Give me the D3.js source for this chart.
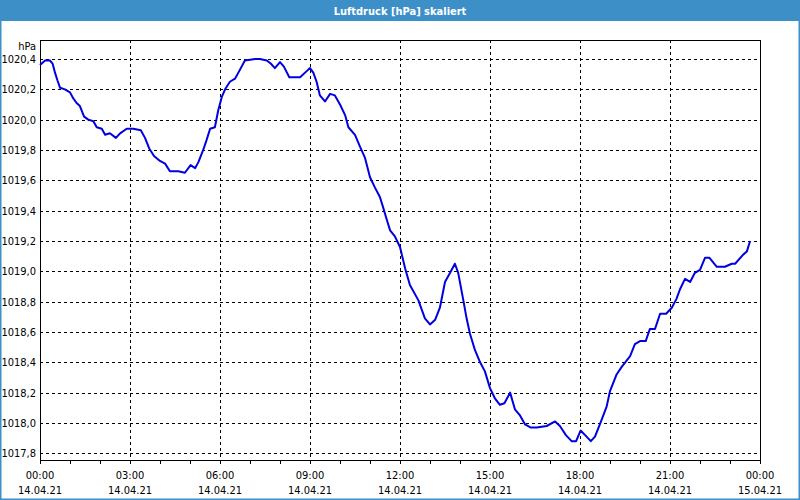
<!DOCTYPE html>
<html>
<head>
<meta charset="utf-8">
<script src="https://cdn.jsdelivr.net/npm/d3@7/dist/d3.min.js"></script>
<style>
  html, body { margin: 0; padding: 0; background: #ffffff; }
  svg { display: block; }
  text { font-family: 'DejaVu Sans Condensed', 'DejaVu Sans', sans-serif; }
</style>
</head>
<body>
<svg id="chart" width="800" height="500"></svg>
<script>
const title = "Luftdruck [hPa] skaliert";
const unitLabel = "hPa";

// time in hours since 14.04.21 00:00
const hours = [0,0.17,0.33,0.42,0.5,0.58,0.67,0.83,1.0,1.11,1.22,1.33,1.47,1.61,1.78,1.89,2.06,2.17,2.33,2.53,2.67,2.89,3.11,3.36,3.5,3.64,3.8,3.98,4.17,4.33,4.61,4.83,5.02,5.17,5.28,5.44,5.56,5.67,5.83,5.94,6.06,6.17,6.33,6.5,6.64,6.83,7.17,7.33,7.56,7.69,7.83,8.0,8.13,8.31,8.67,8.89,9.0,9.11,9.22,9.33,9.5,9.67,9.83,10.0,10.17,10.28,10.5,10.67,10.83,11.0,11.17,11.33,11.44,11.56,11.67,11.83,12.0,12.17,12.33,12.61,12.83,13.0,13.17,13.33,13.5,13.67,13.83,13.94,14.11,14.22,14.33,14.5,14.67,14.83,15.0,15.17,15.33,15.48,15.67,15.83,16.0,16.17,16.36,16.56,16.89,17.17,17.33,17.53,17.72,17.87,18.02,18.17,18.36,18.5,18.72,18.89,19.0,19.22,19.39,19.67,19.83,20.0,20.19,20.33,20.5,20.67,20.87,21.06,21.22,21.33,21.5,21.67,21.83,22.0,22.17,22.31,22.56,22.83,23.06,23.17,23.44,23.56,23.67];
const pressure = [1020.36,1020.39,1020.39,1020.37,1020.31,1020.26,1020.21,1020.20,1020.18,1020.14,1020.11,1020.09,1020.02,1020.00,1019.99,1019.95,1019.94,1019.90,1019.91,1019.88,1019.91,1019.94,1019.94,1019.93,1019.88,1019.81,1019.76,1019.73,1019.71,1019.66,1019.66,1019.65,1019.70,1019.68,1019.72,1019.80,1019.87,1019.94,1019.95,1020.06,1020.15,1020.20,1020.25,1020.27,1020.32,1020.39,1020.40,1020.40,1020.39,1020.37,1020.34,1020.38,1020.35,1020.28,1020.28,1020.32,1020.34,1020.31,1020.25,1020.16,1020.12,1020.17,1020.16,1020.10,1020.03,1019.95,1019.90,1019.82,1019.75,1019.62,1019.55,1019.49,1019.42,1019.34,1019.27,1019.23,1019.16,1019.02,1018.91,1018.81,1018.69,1018.65,1018.68,1018.76,1018.93,1018.99,1019.05,1018.99,1018.81,1018.69,1018.59,1018.48,1018.40,1018.34,1018.23,1018.16,1018.12,1018.13,1018.20,1018.09,1018.05,1017.99,1017.97,1017.97,1017.98,1018.01,1017.98,1017.92,1017.88,1017.88,1017.95,1017.92,1017.88,1017.91,1018.02,1018.11,1018.21,1018.32,1018.37,1018.44,1018.52,1018.54,1018.54,1018.62,1018.62,1018.72,1018.72,1018.76,1018.82,1018.88,1018.95,1018.93,1018.99,1019.01,1019.09,1019.09,1019.03,1019.03,1019.05,1019.05,1019.11,1019.13,1019.20];

const yTicks = [1017.8,1018.0,1018.2,1018.4,1018.6,1018.8,1019.0,1019.2,1019.4,1019.6,1019.8,1020.0,1020.2,1020.4];
const xMajorTicks = [0,3,6,9,12,15,18,21,24];
const xTimeLabels = ["00:00","03:00","06:00","09:00","12:00","15:00","18:00","21:00","00:00"];
const xDateLabels = ["14.04.21","14.04.21","14.04.21","14.04.21","14.04.21","14.04.21","14.04.21","14.04.21","15.04.21"];
const xMinorTicks = d3.range(0, 25, 1);

const W = 800, H = 500;
const plot = {left: 40, right: 760, top: 40, bottom: 460};

const svg = d3.select("#chart");

// title bar
svg.append("rect").attr("x",0).attr("y",0).attr("width",W).attr("height",21).attr("fill","#3d8fc7");
svg.append("text").attr("x",W/2).attr("y",15).attr("text-anchor","middle")
  .attr("fill","#ffffff").attr("font-weight","bold").attr("font-size","11px").text(title);
// outer frame
svg.append("rect").attr("x",0.5).attr("y",0.5).attr("width",W-1).attr("height",H-1)
  .attr("fill","none").attr("stroke","#3d8fc7").attr("stroke-width",2);

const x = d3.scaleLinear().domain([0,24]).range([plot.left, plot.right]);
const y = d3.scaleLinear().domain([1017.8,1020.4]).range([453.3, 59]);

const px = v => Math.round(v) + 0.5;

// grid
const grid = svg.append("g").attr("stroke","#000").attr("stroke-width",1)
  .attr("stroke-dasharray","3,3").attr("shape-rendering","crispEdges");
grid.selectAll("line.h").data(yTicks).enter().append("line")
  .attr("x1",plot.left).attr("x2",plot.right)
  .attr("y1",d=>px(y(d))).attr("y2",d=>px(y(d)));
grid.selectAll("line.v").data(xMajorTicks.slice(1,-1)).enter().append("line")
  .attr("y1",plot.top).attr("y2",plot.bottom)
  .attr("x1",d=>px(x(d))).attr("x2",d=>px(x(d)));

// frame of plot
svg.append("path").attr("fill","none").attr("stroke","#000").attr("stroke-width",1)
  .attr("shape-rendering","crispEdges")
  .attr("d",`M${plot.left+0.5},${plot.bottom+0.5}V${plot.top+0.5}H${plot.right+0.5}V${plot.bottom+0.5}H${plot.left+0.5}`);

// x minor ticks
svg.append("g").selectAll("line").data(xMinorTicks).enter().append("line")
  .attr("x1",d=>px(x(d))).attr("x2",d=>px(x(d)))
  .attr("y1",plot.bottom).attr("y2",plot.bottom+4)
  .attr("stroke","#000").attr("shape-rendering","crispEdges");

// x labels
const xl = svg.append("g").attr("font-size","11px").attr("fill","#000").attr("text-anchor","middle");
xMajorTicks.forEach((t,i)=>{
  xl.append("text").attr("x",x(t)).attr("y",479).text(xTimeLabels[i]);
  xl.append("text").attr("x",x(t)).attr("y",494).text(xDateLabels[i]);
});

// y labels
const yl = svg.append("g").attr("font-size","11px").attr("fill","#000").attr("text-anchor","end");
yTicks.forEach(v=>{
  yl.append("text").attr("x",36).attr("y",y(v)+4).text(d3.format(".1f")(v).replace(".",","));
});
yl.append("text").attr("x",36).attr("y",50).text(unitLabel);

// line
const pts = hours.map((h,i)=>[h, pressure[i]]);
svg.append("path").datum(pts)
  .attr("fill","none").attr("stroke","#0000e0").attr("stroke-width",2)
  .attr("stroke-linejoin","round")
  .attr("d", d3.line().x(d=>x(d[0])).y(d=>y(d[1])));
</script>
</body>
</html>
